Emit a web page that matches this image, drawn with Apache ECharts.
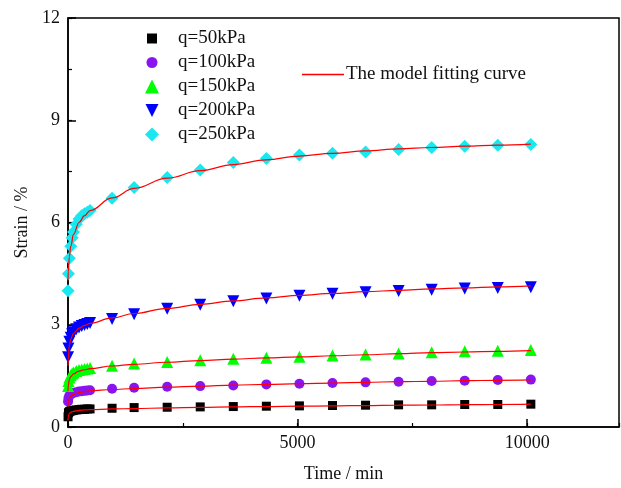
<!DOCTYPE html>
<html>
<head>
<meta charset="utf-8">
<script src="https://cdn.jsdelivr.net/npm/echarts@6/dist/echarts.min.js"></script>
<style>html,body{margin:0;padding:0;background:#fff}#c{width:621px;height:488px}</style>
</head>
<body>
<div id="c"></div>
<script>
// measured times (min)
var times = [1, 10, 30, 60, 90, 120, 180, 240, 300, 360, 420, 480,
  960, 1440, 2160, 2880, 3600, 4320, 5040, 5760, 6480, 7200, 7920, 8640, 9360, 10080];
var q50  = [0.30, 0.42, 0.45, 0.47, 0.48, 0.49, 0.50, 0.51, 0.52, 0.52, 0.53, 0.53,
  0.55, 0.57, 0.58, 0.59, 0.60, 0.61, 0.62, 0.63, 0.64, 0.65, 0.65, 0.66, 0.66, 0.67];
var q100 = [0.75, 0.85, 0.92, 0.96, 0.99, 1.00, 1.02, 1.04, 1.05, 1.06, 1.07, 1.08,
  1.12, 1.15, 1.18, 1.20, 1.22, 1.25, 1.27, 1.29, 1.31, 1.33, 1.35, 1.36, 1.38, 1.39];
var q150 = [1.20, 1.35, 1.45, 1.52, 1.57, 1.60, 1.64, 1.67, 1.69, 1.70, 1.72, 1.73,
  1.80, 1.86, 1.91, 1.96, 2.00, 2.03, 2.06, 2.10, 2.13, 2.16, 2.19, 2.22, 2.24, 2.26];
var q200 = [2.05, 2.30, 2.50, 2.62, 2.72, 2.78, 2.87, 2.92, 2.96, 2.99, 3.02, 3.05,
  3.17, 3.31, 3.47, 3.59, 3.69, 3.77, 3.85, 3.91, 3.95, 3.99, 4.03, 4.06, 4.08, 4.10];
var q250 = [4.00, 4.50, 4.95, 5.30, 5.55, 5.72, 5.95, 6.10, 6.20, 6.26, 6.30, 6.35,
  6.71, 7.03, 7.32, 7.54, 7.76, 7.88, 7.98, 8.03, 8.07, 8.14, 8.20, 8.24, 8.27, 8.29];

// model fitting curve
var fitTimes = [0, 5, 30, 60, 120, 240, 360, 480, 960, 1440, 2160, 2880, 3600, 4320,
  5040, 5760, 6480, 7200, 7920, 8640, 9360, 10080];
var fit50  = [0.20, 0.30, 0.40, 0.43, 0.46, 0.49, 0.50, 0.51, 0.53, 0.54, 0.56, 0.575, 0.59, 0.60,
  0.61, 0.62, 0.63, 0.64, 0.645, 0.655, 0.66, 0.67];
var fit100 = [0.60, 0.72, 0.85, 0.90, 0.96, 1.01, 1.04, 1.06, 1.10, 1.13, 1.17, 1.20, 1.23, 1.25,
  1.27, 1.29, 1.31, 1.33, 1.34, 1.36, 1.37, 1.38];
var fit150 = [1.05, 1.22, 1.40, 1.48, 1.56, 1.64, 1.68, 1.71, 1.79, 1.84, 1.90, 1.95, 1.99, 2.03,
  2.06, 2.09, 2.12, 2.15, 2.18, 2.20, 2.22, 2.24];
var fit200 = [1.80, 2.00, 2.40, 2.58, 2.75, 2.90, 2.98, 3.04, 3.20, 3.33, 3.48, 3.60, 3.70, 3.79,
  3.86, 3.92, 3.97, 4.01, 4.05, 4.08, 4.11, 4.14];
var fit250 = [4.30, 4.55, 5.00, 5.30, 5.65, 6.00, 6.20, 6.35, 6.72, 7.00, 7.30, 7.52, 7.70, 7.84,
  7.95, 8.03, 8.10, 8.16, 8.20, 8.24, 8.27, 8.30];

var seriesNames = ['q=50kPa', 'q=100kPa', 'q=150kPa', 'q=200kPa', 'q=250kPa'];
var fitName = 'The model fitting curve';

function pairs(xs, ys) { return xs.map(function (x, i) { return [x, ys[i]]; }); }

var FONT = 'Liberation Serif';
var markers = [
  {data: q50, color: '#000000', symbol: 'rect', size: 9, rotate: 0},
  {data: q100, color: '#8A14F0', symbol: 'circle', size: 10, rotate: 0},
  {data: q150, color: '#00FF00', symbol: 'triangle', size: 12, rotate: 0},
  {data: q200, color: '#0000FF', symbol: 'triangle', size: 12, rotate: 180},
  {data: q250, color: '#18E8F0', symbol: 'diamond', size: 13, rotate: 0}
];
var legendIcons = ['rect', 'circle', 'triangle', 'path://M0,0 L10,0 L5,10 Z', 'diamond'];
var legendSizes = [10, 11, 14, 13, 14];
var fits = [fit50, fit100, fit150, fit200, fit250];

var series = [];
markers.forEach(function (m, i) {
  series.push({
    name: seriesNames[i], type: 'scatter', xAxisIndex: 0, yAxisIndex: 0,
    symbol: m.symbol, symbolSize: m.size, symbolRotate: m.rotate,
    itemStyle: {color: m.color, opacity: 1}, data: pairs(times, m.data), z: 2, silent: true
  });
});
fits.forEach(function (f) {
  series.push({
    name: fitName, type: 'line', xAxisIndex: 0, yAxisIndex: 0,
    symbol: 'none', showSymbol: false, smooth: 0.4, smoothMonotone: 'x',
    lineStyle: {color: '#FF0000', width: 1.2}, itemStyle: {color: '#FF0000'},
    data: pairs(fitTimes, f), z: 5, silent: true
  });
});

var LEG_FS = 19;
var legends = seriesNames.map(function (n, i) {
  var s = legendSizes[i];
  return {
    data: [{name: n, icon: legendIcons[i], itemStyle: {color: markers[i].color, opacity: 1}}],
    left: 152 - s / 2, top: 37 + 24 * i - 8, itemWidth: s, itemHeight: s, itemGap: 0, padding: 0,
    textStyle: {fontFamily: FONT, fontSize: LEG_FS, color: '#111', padding: [0, 0, 0, 21 - s / 2]},
    selectedMode: false
  };
});
legends.push({
  data: [{name: fitName, icon: 'path://M0,0 L42,0 L42,1.3 L0,1.3 Z',
    itemStyle: {color: '#FF0000', borderWidth: 0}, lineStyle: {color: '#FF0000', width: 1.3}}],
  left: 302, top: 65, itemWidth: 42, itemHeight: 2, padding: 0,
  itemStyle: {color: '#FF0000'}, lineStyle: {color: '#FF0000'},
  textStyle: {fontFamily: FONT, fontSize: LEG_FS, color: '#111', padding: [0, 0, 0, -3]},
  selectedMode: false
});

var chart = echarts.init(document.getElementById('c'), null, {renderer: 'canvas'});
chart.setOption({
  animation: false,
  backgroundColor: '#fff',
  grid: {left: 68, right: 2, top: 18, bottom: 61, show: true, borderColor: '#000', borderWidth: 1.5, backgroundColor: 'transparent'},
  legend: legends,
  xAxis: [
    {
      type: 'value', min: 0, max: 12000, interval: 5000, position: 'bottom',
      name: 'Time / min', nameLocation: 'middle', nameGap: 38,
      nameTextStyle: {fontFamily: FONT, fontSize: 18, color: '#111'},
      axisLine: {show: true, lineStyle: {color: '#000', width: 1.5}},
      axisTick: {show: true, inside: true, length: 8, lineStyle: {color: '#000', width: 1.5}},
      axisLabel: {fontFamily: FONT, fontSize: 18, color: '#111', margin: 7, showMaxLabel: false,
        formatter: function (v) { return String(v); }},
      splitLine: {show: false}
    },
    {
      type: 'value', min: 0, max: 12000, interval: 2500, position: 'bottom', gridIndex: 0,
      axisLine: {show: false},
      axisTick: {show: true, inside: true, length: 4, lineStyle: {color: '#000', width: 1.2}},
      axisLabel: {show: false}, splitLine: {show: false}
    }
  ],
  yAxis: [
    {
      type: 'value', min: 0, max: 12, interval: 3, position: 'left',
      name: 'Strain / %', nameLocation: 'middle', nameGap: 34,
      nameTextStyle: {fontFamily: FONT, fontSize: 18, color: '#111'},
      axisLine: {show: true, lineStyle: {color: '#000', width: 1.5}},
      axisTick: {show: true, inside: true, length: 8, lineStyle: {color: '#000', width: 1.5}},
      axisLabel: {fontFamily: FONT, fontSize: 18, color: '#111', margin: 8},
      splitLine: {show: false}
    },
    {
      type: 'value', min: 0, max: 12, interval: 1.5, position: 'left', gridIndex: 0,
      axisLine: {show: false},
      axisTick: {show: true, inside: true, length: 4, lineStyle: {color: '#000', width: 1.2}},
      axisLabel: {show: false}, splitLine: {show: false}
    }
  ],
  series: series
});
</script>
</body>
</html>
